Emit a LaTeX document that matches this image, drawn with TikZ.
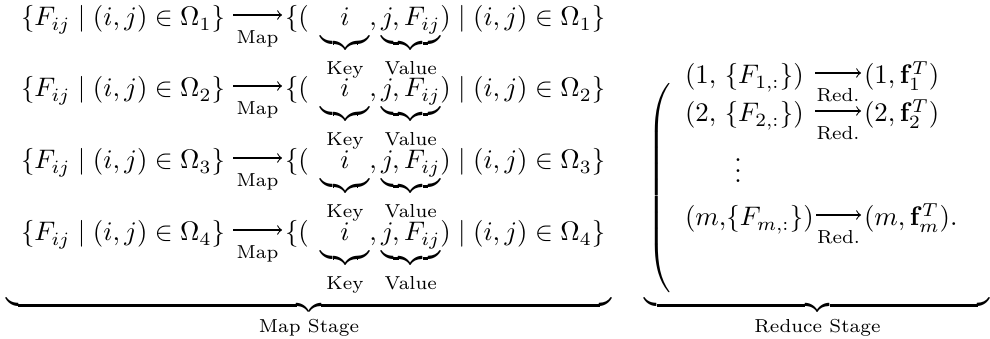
\documentclass[tikz,border=0pt]{standalone}
\usepackage{amsmath,amssymb}
\usetikzlibrary{calc}
\tikzset{
  mathnode/.style={inner sep=0pt, outer sep=0pt},
  arr/.style={->, line width=0.4pt},
  lbl/.style={font=\scriptsize, inner sep=0pt, anchor=base, midway, yshift=-10.6pt},
}
\newcommand{\blab}[1]{\text{\raisebox{-2pt}{#1}}}
\begin{document}
\begin{tikzpicture}[x=0.373pt,y=0.373pt]
\useasboundingbox (0,0) rectangle (990,-339);
% Map stage rows
\foreach \k/\yb in {1/26,2/97,3/169,4/241}{
  \node[mathnode, anchor=base west] (L\k) at (21,-\yb) {$\{F_{ij}\mid(i,j)\in\Omega_{\k}\}$};
  \node[mathnode, anchor=base west] (R\k) at (285,-\yb) {$\{(\hspace{4.5pt}\underbrace{\hspace{7.3pt}i\hspace{7.3pt}\vphantom{F_{ij}j}}_{\blab{Key}},\underbrace{j,F_{ij}}_{\blab{Value}})\mid(i,j)\in\Omega_{\k}\}$};
  \draw[arr] ($(L\k.base east)+(8,11)$) -- node[lbl]{Map} ($(R\k.base west)+(-3,11)$);
}
% stage braces
\node[mathnode, anchor=south] (mapst) at (309,-339) {$\underbrace{\hspace{226pt}}_{\text{Map Stage}}$};
\node[mathnode, anchor=south] (redst) at (817.5,-339) {$\underbrace{\hspace{128.7pt}}_{\text{Reduce Stage}}$};
% big parenthesis
\node[mathnode, anchor=west] (par) at (647,-190) {$\left(\vrule height 38pt depth 38pt width 0pt\right.$};
% Reduce rows
\node[mathnode, anchor=base west] (A1) at (685,-84) {$(1,\hspace{1.5pt}\{F_{1,:}\})$};
\node[mathnode, anchor=base west] (B1) at (864,-84) {$(1,\mathbf{f}_1^T)$};
\coordinate (s1) at (815,-73);
\draw[arr] (s1) -- node[lbl]{Red.} ($(B1.base west)+(-3,11)$);
\node[mathnode, anchor=base west] (A2) at (685,-122) {$(2,\hspace{1.5pt}\{F_{2,:}\})$};
\node[mathnode, anchor=base west] (B2) at (864,-122) {$(2,\mathbf{f}_2^T)$};
\coordinate (s2) at (815,-111);
\draw[arr] (s2) -- node[lbl]{Red.} ($(B2.base west)+(-3,11)$);
\node[mathnode, anchor=base] (vd) at (738,-183) {$\vdots$};
\node[mathnode, anchor=base west] (Am) at (685,-226) {$(m,\!\{F_{m,:}\})$};
\node[mathnode, anchor=base west] (Bm) at (864,-226) {$(m,\mathbf{f}_m^T).$};
\coordinate (sm) at (816,-215);
\draw[arr] (sm) -- node[lbl]{Red.} ($(Bm.base west)+(-3,11)$);
\end{tikzpicture}
\end{document}
